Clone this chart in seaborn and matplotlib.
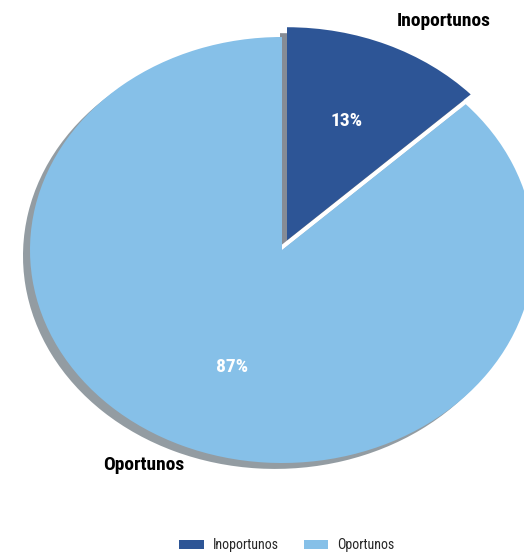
import matplotlib
matplotlib.use("Agg")
import matplotlib.pyplot as plt
import seaborn as sns

sns.set_theme(style="white")
plt.rcParams["font.family"] = ["Roboto Condensed", "DejaVu Sans"]

# Data
categories = ["Inoportunos", "Oportunos"]
values = [13, 87]
colors = ["#2D5596", "#86C0E8"]

fig = plt.figure(figsize=(5.24, 5.52), dpi=100)
ax = fig.add_axes([0, 0, 1, 1])

wedges, texts, autotexts = ax.pie(
    values,
    labels=categories,
    colors=colors,
    startangle=90,
    counterclock=False,
    explode=[0.05, 0],
    shadow=True,
    autopct="%1.0f%%",
    pctdistance=0.6,
    labeldistance=1.1,
    wedgeprops=dict(linewidth=0),
    textprops=dict(fontsize=14, fontweight="bold", color="black"),
)
for t in autotexts:
    t.set_color("white")
    t.set_fontsize(14)
    t.set_fontweight("bold")

# Nudge the labels a little
x, y = texts[1].get_position()
texts[1].set_position((x + 0.05, y))
x, y = autotexts[1].get_position()
autotexts[1].set_position((x + 0.04, y))
x, y = texts[0].get_position()
texts[0].set_position((x, y + 0.02))
x, y = autotexts[0].get_position()
autotexts[0].set_position((x, y + 0.01))

# Stretched (elliptical) pie: map data units to the figure directly
ax.set_aspect("auto")
cx, cy, rx, ry = 282, 250, 252, 213
W, H = 524, 552
ax.set_xlim(-cx / rx, (W - cx) / rx)
ax.set_ylim(-(H - cy) / ry, cy / ry)
ax.axis("off")

fig.legend(
    wedges, categories,
    loc="center", bbox_to_anchor=(287 / W, 1 - 545 / H),
    ncol=2, frameon=False, fontsize=10,
    handlelength=1.75, handleheight=0.6, handletextpad=0.7,
    columnspacing=1.75,
)

fig.savefig("out.png", dpi=100)
